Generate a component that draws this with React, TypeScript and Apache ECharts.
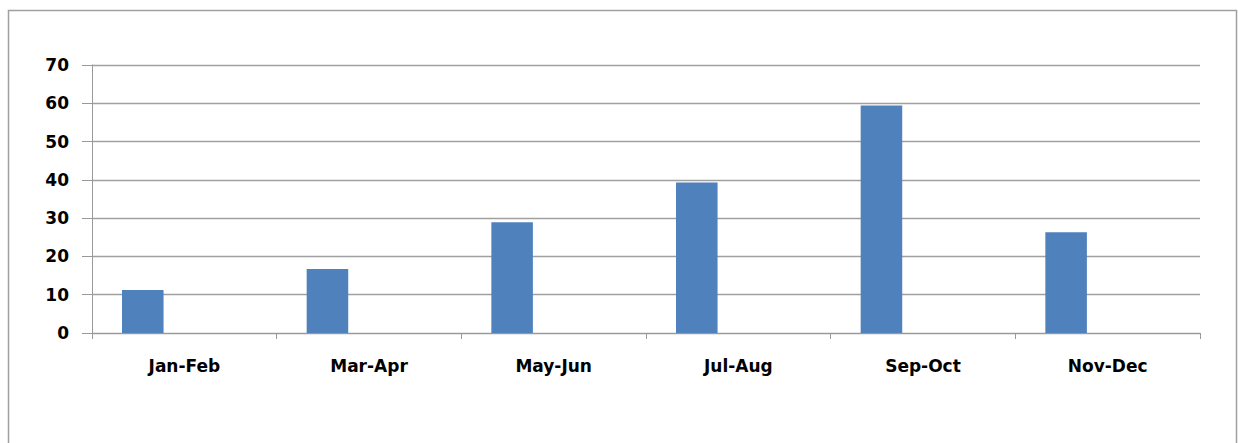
import React, { useEffect, useRef } from "react";
import * as echarts from "echarts";

const categories = ["Jan-Feb", "Mar-Apr", "May-Jun", "Jul-Aug", "Sep-Oct", "Nov-Dec"];
const seriesValues = [11.2, 16.7, 28.9, 39.3, 59.4, 26.3];
const emptySeries1: (number | null)[] = [null, null, null, null, null, null];
const emptySeries2: (number | null)[] = [null, null, null, null, null, null];
const yMin = 0;
const yMax = 70;
const yInterval = 10;

export default function App() {
  const ref = useRef<HTMLDivElement>(null);
  useEffect(() => {
    if (!ref.current) return;
    const chart = echarts.init(ref.current, null, { renderer: "svg" });
    const labelFont = {
      fontFamily: "DejaVu Sans",
      fontWeight: "bold" as const,
      fontSize: 17,
      color: "#000",
    };
    chart.setOption({
      animation: false,
      backgroundColor: "#fff",
      graphic: [
        {
          type: "rect",
          shape: { x: 8.5, y: 10.5, width: 1228, height: 445 },
          style: { fill: "none", stroke: "#a0a0a0", lineWidth: 1.5 },
          silent: true,
        },
      ],
      grid: { left: 92, right: 38, top: 65, bottom: 110 },
      xAxis: {
        type: "category",
        data: categories,
        boundaryGap: true,
        axisLine: { show: true, lineStyle: { color: "#999", width: 1 } },
        axisTick: { show: true, length: 6, lineStyle: { color: "#999" } },
        axisLabel: { ...labelFont, margin: 24, interval: 0 },
        splitLine: { show: false },
      },
      yAxis: {
        type: "value",
        min: yMin,
        max: yMax,
        interval: yInterval,
        axisLine: { show: true, lineStyle: { color: "#999", width: 1 } },
        axisTick: { show: true, length: 10, lineStyle: { color: "#999" } },
        axisLabel: { ...labelFont, margin: 23 },
        splitLine: { show: true, lineStyle: { color: "#a0a0a0", width: 1.3 } },
      },
      series: [
        {
          type: "bar",
          data: seriesValues,
          barGap: "0%",
          barCategoryGap: "32.5%",
          itemStyle: { color: "#4F81BD" },
        },
        { type: "bar", data: emptySeries1, itemStyle: { color: "#C0504D" } },
        { type: "bar", data: emptySeries2, itemStyle: { color: "#9BBB59" } },
      ],
    });
    return () => chart.dispose();
  }, []);
  return (
    <div
      ref={ref}
      style={{ position: "fixed", left: 0, top: 0, width: 1238, height: 443 }}
    />
  );
}
